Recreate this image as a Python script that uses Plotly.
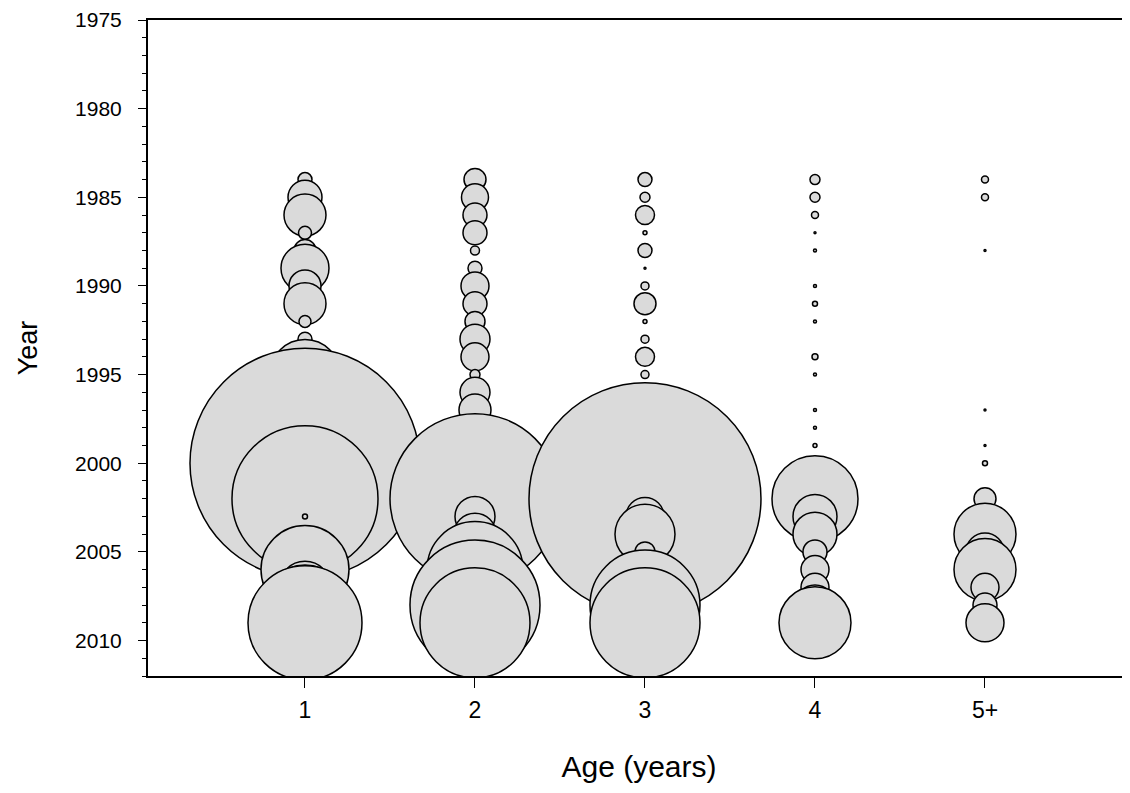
import plotly.graph_objects as go

# Year classes shown on the y axis (1975 at the top, reversed)
years = list(range(1984, 2010))
age_labels = ["1", "2", "3", "4", "5+"]

# Relative abundance by age; bubble area is proportional to the value.
# None = no catch recorded for that year/age.
age1 = [1.96, 11.56, 17.64, 1.69, 4.84, 23.04, 10.24, 17.64, 1.44, 1.96,
        2.56, 49.0, 16.0, 25.0, 49.0, 100.0, 529.0, 64.0, 213.2, 0.25,
        None, 16.0, 77.44, 27.04, 64.0, 129.96]
age2 = [4.84, 7.29, 5.76, 5.76, 0.81, 1.96, 7.84, 5.76, 4.0, 9.0,
        7.84, 1.0, 9.0, 10.24, 2.56, 16.0, 36.0, 64.0, 289.0, 16.0,
        17.64, 19.36, 92.16, 64.0, 169.0, 121.0]
age3 = [1.96, 1.0, 3.61, 0.16, 1.96, 0.04, 0.64, 4.84, 0.16, 0.64,
        3.61, 0.64, 0.16, 5.76, 25.0, 64.0, 121.0, 196.0, 538.2, 14.44,
        36.0, 4.0, 12.96, 36.0, 121.0, 121.0]
age4 = [1.0, 1.0, 0.49, 0.04, 0.09, None, 0.09, 0.25, 0.09, None,
        0.36, 0.09, None, 0.09, 0.09, 0.16, 1.0, 9.0, 73.96, 19.36,
        19.36, 5.76, 7.84, 7.84, 16.0, 51.84]
age5 = [0.49, 0.49, None, None, 0.04, None, None, None, None, None,
        None, None, None, 0.04, None, 0.04, 0.25, None, 4.84, 2.56,
        38.44, 14.44, 38.44, 7.84, 5.76, 14.44]

series = [age1, age2, age3, age4, age5]

FONT = "Liberation Sans, Arial, sans-serif"
FILL = "#dadada"

fig = go.Figure()
for pos, values in enumerate(series, start=1):
    pts = [(y, v) for y, v in zip(years, values) if v is not None]
    fig.add_trace(go.Scatter(
        x=[pos] * len(pts),
        y=[p[0] for p in pts],
        mode="markers",
        marker=dict(
            size=[p[1] for p in pts],
            sizemode="area",
            sizeref=0.02,
            sizemin=0,
            color=FILL,
            opacity=1,
            line=dict(color="black", width=1.5),
        ),
        showlegend=False,
        hoverinfo="skip",
    ))

# page body has an 8px margin, so the figure is a bit smaller than the window
fig.update_layout(
    width=1122,
    height=785,
    margin=dict(l=140, r=0, t=9, b=117),
    paper_bgcolor="white",
    plot_bgcolor="white",
    font=dict(family=FONT, color="black"),
    xaxis=dict(
        range=[0.0765, 5.853],
        tickvals=[1, 2, 3, 4, 5],
        ticktext=age_labels,
        ticks="outside",
        ticklen=10,
        tickwidth=1,
        tickcolor="black",
        showline=True,
        linecolor="black",
        linewidth=2,
        mirror=True,
        showgrid=False,
        zeroline=False,
        tickfont=dict(size=23),
        ticklabelstandoff=2,
        title=dict(text="Age (years)", font=dict(size=30), standoff=34),
    ),
    yaxis=dict(
        range=[2012, 1975],
        tickvals=list(range(1975, 2011, 5)),
        ticks="outside",
        ticklen=8,
        tickwidth=1,
        tickcolor="black",
        minor=dict(dtick=1, ticks="outside", ticklen=4, tickcolor="black", tickwidth=1),
        showline=True,
        linecolor="black",
        linewidth=2,
        showgrid=False,
        zeroline=False,
        tickfont=dict(size=21),
        ticklabelstandoff=12,
        ticklabeloverflow="allow",
        title=dict(text="Year", font=dict(size=27), standoff=30),
    ),
)

fig.write_html("out.html")
